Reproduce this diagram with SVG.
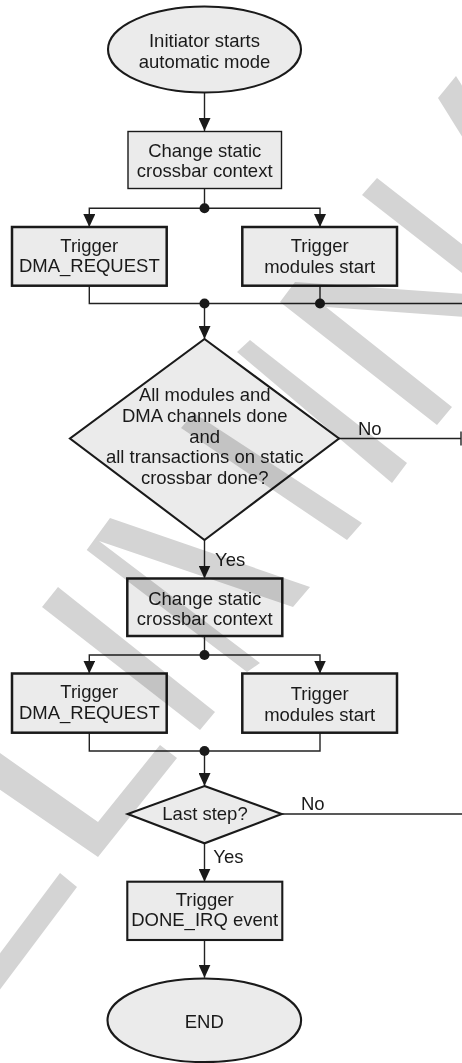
<svg xmlns="http://www.w3.org/2000/svg" width="462" height="1063" viewBox="0 0 462 1063">
<style>
  .bg{fill:#ffffff}
  .fill{fill:#ebebeb;stroke:#1a1a1a}
  .thin{stroke-width:1.4}
  .thick{stroke-width:2.5}
  .mid{stroke-width:2.1}
  .t{font-family:"Liberation Sans",Arial,sans-serif;font-size:18.5px;fill:#1a1a1a;text-anchor:middle}
  .lbl{font-family:"Liberation Sans",Arial,sans-serif;font-size:18.5px;fill:#1a1a1a}
  .c{fill:none;stroke:#222;stroke-width:1.4}
  .ca{fill:none;stroke:#222;stroke-width:1.4;marker-end:url(#arr)}
  .dot{fill:#1a1a1a}
  .wm{fill:#d4d4d4}
</style>
<defs>
  <marker id="arr" markerUnits="userSpaceOnUse" viewBox="0 0 13 12" refX="13" refY="6" markerWidth="13" markerHeight="12" orient="auto">
    <path d="M0,0 L13,6 L0,12 z" fill="#1a1a1a"/>
  </marker>
</defs>
<rect class="bg" x="0" y="0" width="462" height="1063"/>

<g id="connectors">
  <path class="ca" d="M204.5,93 V131"/>
  <path class="c" d="M204.5,188.5 V208.3"/>
  <path class="ca" d="M204.5,208.3 H89.3 V227"/>
  <path class="ca" d="M204.5,208.3 H320 V227"/>
  <path class="c" d="M89.3,285.7 V303.5 H462"/>
  <path class="c" d="M320,285.7 V303.5"/>
  <path class="ca" d="M204.5,303.5 V339"/>
  <path class="c" d="M339,438.5 H461"/>
  <path class="c" d="M461,431.5 V445.5"/>
  <path class="ca" d="M204.5,540 V578.5"/>
  <path class="c" d="M204.5,636 V655"/>
  <path class="ca" d="M204.5,655 H89.3 V673.5"/>
  <path class="ca" d="M204.5,655 H320 V673.5"/>
  <path class="c" d="M89.3,732.7 V751 H320 V732.7"/>
  <path class="ca" d="M204.5,751 V786"/>
  <path class="c" d="M281.7,814 H462"/>
  <path class="ca" d="M204.5,843.3 V881.7"/>
  <path class="ca" d="M204.5,940 V977.7"/>
  <circle class="dot" cx="204.5" cy="208.3" r="5"/>
  <circle class="dot" cx="204.5" cy="303.5" r="5"/>
  <circle class="dot" cx="320" cy="303.5" r="5"/>
  <circle class="dot" cx="204.5" cy="655" r="5"/>
  <circle class="dot" cx="204.5" cy="751" r="5"/>
  <text class="lbl" x="358" y="435">No</text>
  <text class="lbl" x="215" y="565.5">Yes</text>
  <text class="lbl" x="301" y="810">No</text>
  <text class="lbl" x="213.3" y="862.5">Yes</text>
</g>

<g id="n-start">
  <ellipse class="fill mid" cx="204.5" cy="49.5" rx="96.5" ry="43"/>
  <text class="t" x="204.5" y="46.5">Initiator starts</text>
  <text class="t" x="204.5" y="67.5">automatic mode</text>
</g>

<g id="n-change1">
  <rect class="fill thin" x="128" y="131.5" width="153.5" height="57"/>
  <text class="t" x="204.7" y="156.5">Change static</text>
  <text class="t" x="204.7" y="177">crossbar context</text>
</g>

<g id="n-dma1">
  <rect class="fill thick" x="12" y="227" width="154.7" height="58.7"/>
  <text class="t" x="89.3" y="251.7">Trigger</text>
  <text class="t" x="89.3" y="271.7">DMA_REQUEST</text>
</g>

<g id="n-mod1">
  <rect class="fill thick" x="242.3" y="227" width="154.7" height="58.7"/>
  <text class="t" x="319.7" y="252.3">Trigger</text>
  <text class="t" x="319.7" y="273.3">modules start</text>
</g>

<g id="n-dec1">
  <polygon class="fill mid" points="204.5,339 339,438.5 204.5,540 70,438.5"/>
  <text class="t" x="204.7" y="401">All modules and</text>
  <text class="t" x="204.7" y="421.7">DMA channels done</text>
  <text class="t" x="204.7" y="442.5">and</text>
  <text class="t" x="204.7" y="463.3">all transactions on static</text>
  <text class="t" x="204.7" y="484.3">crossbar done?</text>
</g>

<g id="n-change2">
  <rect class="fill thick" x="127.3" y="578.5" width="155" height="57.5"/>
  <text class="t" x="204.7" y="604.5">Change static</text>
  <text class="t" x="204.7" y="625">crossbar context</text>
</g>

<g id="n-dma2">
  <rect class="fill thick" x="12" y="673.5" width="154.7" height="59.2"/>
  <text class="t" x="89.3" y="698.3">Trigger</text>
  <text class="t" x="89.3" y="719">DMA_REQUEST</text>
</g>

<g id="n-mod2">
  <rect class="fill thick" x="242.3" y="673.5" width="154.7" height="59.2"/>
  <text class="t" x="319.7" y="700.3">Trigger</text>
  <text class="t" x="319.7" y="721.3">modules start</text>
</g>

<g id="n-dec2">
  <polygon class="fill mid" points="204.5,786 281.7,814 204.5,843.3 127.7,814"/>
  <text class="t" x="205" y="820.3">Last step?</text>
</g>

<g id="n-done">
  <rect class="fill mid" x="127.3" y="881.7" width="155" height="58.3"/>
  <text class="t" x="204.7" y="905.5">Trigger</text>
  <text class="t" x="204.7" y="926">DONE_IRQ event</text>
</g>

<g id="n-end">
  <ellipse class="fill mid" cx="204.3" cy="1020.3" rx="96.8" ry="41.8"/>
  <text class="t" x="204.3" y="1027.5">END</text>
</g>

<g id="watermark" style="mix-blend-mode:multiply">
  <polygon class="wm" points="438,98 456,76 509,160 491,183"/>
  <polygon class="wm" points="362,195 377,178 495,270 480,287"/>
  <polygon class="wm" points="280,302 295,282 480,295 480,318 326,307 452,407 437,425"/>
  <polygon class="wm" points="237,352 250,340 407,463 392,483"/>
  <polygon class="wm" points="181,428 194,413 362,523 347,540"/>
  <polygon class="wm" points="86.7,550 110,518 310,587 293,607 99,541 260,663 247,672"/>
  <polygon class="wm" points="42,607 58,587 215,712 200,730"/>
  <polygon class="wm" points="-10,746 98,822 160,745 177,758 98,857 -10,783"/>
  <polygon class="wm" points="60,873 77,887 -20,1016 -20,980"/>
</g>
</svg>
